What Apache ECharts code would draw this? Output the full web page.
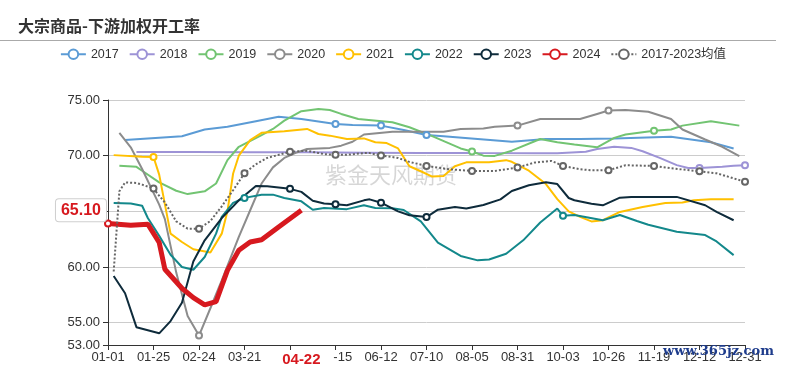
<!DOCTYPE html>
<html>
<head>
<meta charset="utf-8">
<script src="https://cdn.jsdelivr.net/npm/echarts@6/dist/echarts.min.js"></script>
<style>
html,body{margin:0;padding:0;background:#fff;}
#chart{width:786px;height:370px;}
</style>
</head>
<body>
<div id="chart"></div>
<script>
// ---- data ----
const titleText = '大宗商品-下游加权开工率';
const tickLabels = ['01-01','01-25','02-24','03-21','04-15','05-15','06-12','07-10','08-05','08-31','10-03','10-26','11-19','12-12','12-31'];
const stepsPerTick = 8;               // categories between two labelled ticks
const currentIndex = 34;              // category of latest 2024 reading
const currentLabel = '04-22';
const currentValue = 65.10;
const seriesNames = ['2017','2018','2019','2020','2021','2022','2023','2024','2017-2023均值'];

// each entry: [category index, value]
const d2017 = [[3,71.4],[7,71.55],[13,71.75],[17,72.35],[21,72.6],[26,73.1],[30,73.5],[34,73.3],[40,72.85],[43,72.75],[48,72.7],[52,72.3],[56,71.85],[59,71.75],[65,71.5],[71,71.25],[77,71.5],[83,71.5],[89,71.55],[99,71.7],[106,71.2],[110,70.65]];
const d2018 = [[5,70.32],[15,70.32],[25,70.3],[35,70.3],[45,70.27],[55,70.25],[65,70.23],[75,70.22],[79,70.22],[84,70.35],[86,70.6],[89,70.8],[92,70.7],[94,70.4],[97,69.8],[100,69.15],[102,68.9],[104,68.9],[108,69.0],[110,69.1],[112,69.15]];
const d2019 = [[2,69.1],[5,69.0],[6,68.65],[9,67.6],[12,66.85],[14,66.55],[17,66.8],[19,67.5],[21,69.6],[23,70.8],[27,71.85],[29,72.4],[31,73.15],[34,74.0],[37,74.2],[39,74.1],[41,73.75],[44,73.3],[50,73.0],[53,72.55],[57,71.75],[62,70.65],[64,70.38],[66,70.0],[68,69.98],[71,70.45],[76,71.5],[79,71.2],[82,71.0],[86,70.75],[89,71.6],[91,71.9],[96,72.24],[99,72.35],[101,72.7],[106,73.1],[111,72.7]];
const d2020 = [[2,72.05],[4,70.75],[6,68.8],[9,65.6],[10,64.3],[12,59.5],[14,55.6],[16,53.85],[18,56.3],[20,58.8],[23,62.7],[25,65.1],[27,67.5],[29,68.95],[31,69.8],[33,70.25],[35,70.6],[39,70.7],[41,70.9],[43,71.25],[45,71.9],[50,72.15],[55,72.15],[59,72.15],[62,72.4],[66,72.45],[68,72.6],[72,72.7],[76,73.3],[83,73.3],[86,73.75],[88,74.05],[91,74.1],[95,73.95],[99,73.3],[101,72.35],[105,71.45],[108,70.8],[111,69.95]];
const d2021 = [[1,70.05],[6,69.9],[8,69.88],[9,68.3],[11,63.0],[13,62.25],[15,61.6],[18,61.3],[20,63.0],[21,65.0],[22,68.4],[23,70.0],[25,71.4],[27,72.05],[31,72.2],[35,72.4],[37,71.95],[39,71.8],[42,71.5],[45,71.55],[47,71.2],[49,71.13],[51,70.65],[53,69.05],[55,68.6],[57,68.12],[59,68.18],[61,69.05],[63,69.4],[67,69.4],[70,69.6],[71,69.45],[74,68.65],[77,67.45],[79,66.1],[81,65.0],[83,64.5],[85,64.1],[87,64.2],[90,64.95],[94,65.4],[98,65.75],[101,65.8],[103,66.0],[106,66.08],[110,66.08]];
const d2022 = [[1,65.75],[4,65.7],[6,65.5],[7,64.4],[9,62.8],[11,61.1],[13,60.0],[15,59.76],[17,60.9],[19,63.0],[20,64.5],[22,65.76],[24,66.21],[27,66.5],[29,66.5],[31,66.2],[34,65.9],[36,65.15],[38,65.3],[42,65.2],[45,65.55],[47,65.3],[50,65.27],[52,65.12],[55,64.1],[58,62.2],[62,61.0],[65,60.6],[67,60.68],[70,61.2],[73,62.4],[76,64.0],[79,65.25],[80,64.6],[82,64.67],[87,64.2],[90,64.67],[93,64.13],[95,63.8],[100,63.17],[105,62.87],[107,62.3],[110,61.07]];
const d2023 = [[1,59.2],[3,57.65],[5,54.6],[9,54.05],[11,55.15],[13,56.8],[15,60.5],[17,62.4],[20,64.4],[22,65.45],[23,66.0],[26,67.28],[28,67.25],[32,67.02],[34,66.75],[36,65.95],[38,65.7],[40,65.63],[42,65.55],[45,65.99],[46,66.08],[48,65.78],[51,65.0],[53,64.65],[56,64.49],[58,65.15],[61,65.4],[63,65.25],[66,65.57],[69,66.08],[71,66.83],[74,67.35],[77,67.62],[79,67.45],[81,66.2],[82,66.0],[85,65.68],[87,65.54],[90,66.23],[92,66.3],[100,66.3],[105,65.55],[107,64.95],[110,64.2]];
const d2024 = [[0,63.9],[4,63.75],[7,63.85],[9,62.2],[10,59.8],[13,58.1],[15,57.25],[17,56.6],[19,56.9],[21,59.7],[23,61.5],[25,62.25],[27,62.45],[30,63.6],[34,65.1]];
const dAvg  = [[1,59.6],[2,66.8],[3,67.6],[5,67.55],[6,67.4],[8,67.05],[9,66.4],[10,65.8],[12,64.1],[14,63.45],[16,63.45],[18,64.13],[20,65.45],[22,66.9],[24,68.42],[26,69.23],[28,69.8],[32,70.35],[35,70.44],[38,70.14],[40,70.08],[42,70.08],[45,70.23],[46,70.23],[48,70.02],[51,69.8],[53,69.44],[56,69.08],[60,68.78],[64,68.63],[68,68.63],[72,68.93],[75,69.38],[78,69.53],[80,69.08],[83,68.78],[85,68.69],[88,68.69],[91,69.14],[96,69.08],[99,68.87],[104,68.6],[107,68.42],[109,68.12],[112,67.65]];

const seriesData = [d2017,d2018,d2019,d2020,d2021,d2022,d2023,d2024,dAvg];
const colors = ['#5B9BD5','#9D93D6','#72C472','#8C8C8C','#FFC000','#13888B','#0E2B3B','#D7191F','#666666'];

// ---- build options ----
const categories = [];
for (let i = 0; i <= (tickLabels.length - 1) * stepsPerTick; i++) {
  categories.push(i % stepsPerTick === 0 ? tickLabels[i / stepsPerTick] : '');
}
categories[currentIndex] = currentLabel;

const FONT = '"Liberation Sans","Noto Sans CJK SC",sans-serif';

const series = seriesNames.map((name, k) => {
  const isAvg = k === 8, is2024 = k === 7;
  return {
    name: name,
    type: 'line',
    data: seriesData[k],
    connectNulls: true,
    symbol: 'emptyCircle',
    symbolSize: 6,
    showSymbol: true,
    color: colors[k],
    itemStyle: { color: colors[k], borderWidth: 1 },
    lineStyle: { color: colors[k], width: is2024 ? 5 : 2, type: isAvg ? 'dotted' : 'solid' },
    emphasis: { disabled: true },
    z: is2024 ? 3 : (isAvg ? 4 : 2)
  };
});

const chart = echarts.init(document.getElementById('chart'), null, { renderer: 'canvas' });
chart.setOption({
  animation: false,
  textStyle: { fontFamily: FONT },
  color: colors,
  title: {
    text: titleText, left: 13, top: 13,
    textStyle: { fontSize: 16, fontWeight: 'bold', color: '#333', fontFamily: '"Noto Sans CJK SC",sans-serif' }
  },
  legend: {
    data: seriesNames, top: 43, left: 'center',
    itemWidth: 25, itemHeight: 12, itemGap: 10,
    textStyle: { fontSize: 12.5, color: '#333', fontFamily: FONT }
  },
  grid: { left: 108, right: 41, top: 100, bottom: 25, containLabel: false },
  xAxis: {
    type: 'category', data: categories, boundaryGap: false,
    axisLine: { lineStyle: { color: '#333', width: 1 } },
    axisTick: { show: true, interval: stepsPerTick - 1, length: 5, lineStyle: { color: '#333' } },
    axisLabel: { interval: stepsPerTick - 1, color: '#333', fontSize: 13, margin: 6, fontFamily: FONT },
    splitLine: { show: false },
    axisPointer: {
      show: true, value: currentIndex, status: 'show', triggerTooltip: false,
      lineStyle: { opacity: 0, width: 0 },
      label: {
        show: true, color: '#D7191F', fontWeight: 'bold', fontSize: 15, fontFamily: FONT,
        backgroundColor: '#fff', padding: [2, 13], margin: 5, shadowBlur: 0
      }
    }
  },
  yAxis: {
    type: 'value', min: 53, max: 75,
    axisLine: { show: true, lineStyle: { color: '#333', width: 1 } },
    axisTick: { show: true, length: 5, lineStyle: { color: '#333' } },
    axisLabel: { color: '#333', fontSize: 13, fontFamily: FONT, formatter: v => v.toFixed(2) },
    splitLine: { show: true, lineStyle: { color: '#cccccc', width: 1 } },
    axisPointer: {
      show: true, value: currentValue, status: 'show', triggerTooltip: false,
      lineStyle: { opacity: 0, width: 0 },
      label: {
        show: true, precision: 2, color: '#D7191F', fontWeight: 'bold', fontSize: 16, fontFamily: FONT,
        backgroundColor: '#fff', borderColor: '#cfcfcf', borderWidth: 1, padding: [3, 5], margin: 2, shadowBlur: 0
      }
    }
  },
  graphic: [
    { type: 'line', shape: { x1: 0, y1: 40.5, x2: 776, y2: 40.5 }, style: { stroke: '#aaaaaa', lineWidth: 1 }, silent: true },
    { type: 'text', left: 325, top: 164, z: 0, silent: true,
      style: { text: '紫金天风期货', fill: 'rgba(0,0,0,0.16)', font: '22px "Noto Sans CJK SC", sans-serif' } },
    { type: 'text', left: 663, top: 345, z: 100, silent: true,
      style: { text: 'www.365jz.com', fill: '#1E3C8C', font: 'bold 13px "DejaVu Serif", serif' } }
  ],
  series: series
});
</script>
</body>
</html>
